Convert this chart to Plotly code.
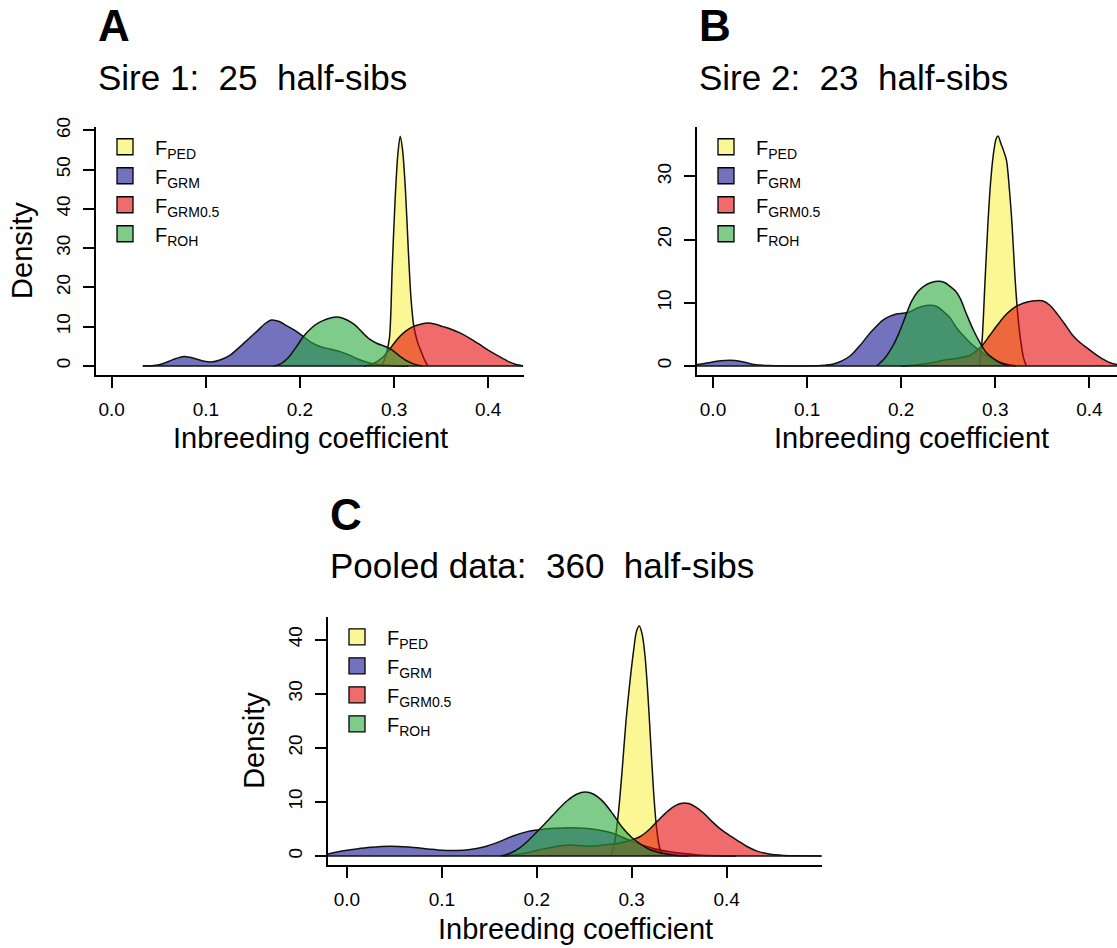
import plotly.graph_objects as go

W, H = 1117, 948
FONT = "Liberation Sans, Arial, sans-serif"

# ---------------- data ----------------
SERIES = ["PED", "GRM", "GRM0.5", "ROH"]
LEGEND_LABELS = ["F<sub>PED</sub>", "F<sub>GRM</sub>", "F<sub>GRM0.5</sub>", "F<sub>ROH</sub>"]
PANEL_LETTERS = ["A", "B", "C"]
PANEL_TITLES = ["Sire 1:\u00a0 25\u00a0 half-sibs",
                "Sire 2:\u00a0 23\u00a0 half-sibs",
                "Pooled data:\u00a0 360\u00a0 half-sibs"]
X_TITLE = "Inbreeding coefficient"
Y_TITLE = "Density"
X_TICKS = [0.0, 0.1, 0.2, 0.3, 0.4]
Y_TICKS_A = [0, 10, 20, 30, 40, 50, 60]
Y_TICKS_B = [0, 10, 20, 30]
Y_TICKS_C = [0, 10, 20, 30, 40]

# Panel A : Sire 1
A_PED_x = [0.287, 0.291, 0.295, 0.298, 0.301, 0.304, 0.3065, 0.309, 0.312, 0.315, 0.318, 0.321, 0.325, 0.329, 0.333, 0.336]
A_PED_y = [0, 2.5, 7, 25, 42, 54, 58.5, 55, 45, 30, 17, 10, 6, 3.5, 1.2, 0]
A_GRM_x = [0.033, 0.045, 0.055, 0.065, 0.077, 0.088, 0.098, 0.106, 0.115, 0.125, 0.135, 0.145, 0.155, 0.163, 0.170,
           0.178, 0.186, 0.195, 0.203, 0.212, 0.222, 0.232, 0.242, 0.252, 0.262, 0.272, 0.282, 0.292, 0.302, 0.315]
A_GRM_y = [0, 0.1, 0.6, 1.6, 2.4, 1.9, 1.2, 1.0, 1.5, 2.6, 4.6, 6.8, 9.0, 10.8, 11.7,
           11.3, 10.2, 9.0, 7.6, 6.0, 4.9, 4.3, 3.7, 2.8, 1.7, 0.9, 0.4, 0.15, 0.05, 0]
A_R05_x = [0.268, 0.278, 0.288, 0.296, 0.304, 0.312, 0.320, 0.328, 0.336, 0.344, 0.352, 0.360, 0.370, 0.380,
           0.390, 0.400, 0.410, 0.420, 0.428, 0.437]
A_R05_y = [0, 0.6, 2.2, 4.5, 7.0, 8.8, 10.0, 10.6, 10.9, 10.6, 10.0, 9.4, 8.4, 7.1, 5.6, 4.0, 2.6, 1.3, 0.5, 0]
A_ROH_x = [0.172, 0.180, 0.188, 0.196, 0.204, 0.212, 0.220, 0.228, 0.236, 0.242, 0.250, 0.258, 0.266, 0.274,
           0.282, 0.290, 0.298, 0.306, 0.314, 0.322, 0.330]
A_ROH_y = [0, 0.6, 2.2, 4.8, 7.6, 9.6, 11.0, 11.9, 12.4, 12.4, 11.7, 10.5, 8.6, 6.8, 5.7, 5.0, 4.0, 2.5, 1.2, 0.4, 0]

# Panel B : Sire 2
B_PED_x = [0.283, 0.286, 0.289, 0.292, 0.295, 0.298, 0.301, 0.303, 0.306, 0.309, 0.312, 0.315, 0.318, 0.321,
           0.324, 0.327, 0.330, 0.333]
B_PED_y = [0, 4, 13, 22, 29, 33.5, 36, 36.4, 35.2, 34, 32.5, 28, 22, 14, 8, 4, 1.3, 0]
B_GRM_x = [-0.03, -0.017, -0.005, 0.008, 0.018, 0.03, 0.045, 0.06, 0.09, 0.115, 0.128, 0.137, 0.146, 0.156,
           0.167, 0.181, 0.195, 0.208, 0.218, 0.229, 0.238, 0.245, 0.252, 0.259, 0.266, 0.273, 0.28, 0.288,
           0.295, 0.303, 0.312, 0.322]
B_GRM_y = [0, 0.2, 0.5, 0.8, 0.9, 0.7, 0.2, 0.05, 0, 0.05, 0.3, 0.8, 1.6, 3.2,
           5.2, 7.3, 8.2, 8.5, 9.2, 9.6, 9.4, 8.6, 7.6, 6.0, 4.8, 3.7, 2.8, 1.9,
           1.3, 0.7, 0.25, 0]
B_R05_x = [0.20, 0.215, 0.23, 0.245, 0.26, 0.272, 0.28, 0.287, 0.294, 0.302, 0.31, 0.318, 0.326, 0.334,
           0.342, 0.35, 0.358, 0.366, 0.374, 0.382, 0.39, 0.398, 0.406, 0.414, 0.422, 0.432, 0.445]
B_R05_y = [0, 0.15, 0.4, 0.9, 1.2, 1.6, 2.4, 3.4, 4.8, 6.4, 7.9, 9.0, 9.7, 10.1,
           10.3, 10.3, 9.6, 8.2, 6.6, 4.9, 3.7, 2.8, 1.9, 1.1, 0.5, 0.15, 0]
B_ROH_x = [0.174, 0.183, 0.192, 0.198, 0.204, 0.211, 0.218, 0.224, 0.232, 0.24, 0.246, 0.252, 0.258, 0.263,
           0.27, 0.277, 0.284, 0.29, 0.295, 0.305, 0.316]
B_ROH_y = [0, 1.3, 3.4, 5.3, 7.6, 10.2, 11.8, 12.6, 13.2, 13.4, 13.2, 12.6, 11.8, 10.6,
           8.0, 5.6, 3.6, 2.2, 1.5, 0.5, 0]

# Panel C : pooled
C_PED_x = [0.278, 0.282, 0.286, 0.29, 0.294, 0.298, 0.302, 0.305, 0.308, 0.311, 0.314, 0.317, 0.32, 0.323,
           0.326, 0.329, 0.332]
C_PED_y = [0, 2.5, 8, 16, 25, 32, 38, 41.5, 42.5, 41, 37, 30, 21, 12, 5.5, 1.8, 0]
C_GRM_x = [-0.03, -0.019, -0.005, 0.01, 0.025, 0.045, 0.065, 0.085, 0.10, 0.115, 0.13, 0.145, 0.16, 0.175,
           0.19, 0.205, 0.22, 0.235, 0.25, 0.265, 0.28, 0.295, 0.31, 0.325, 0.34, 0.355, 0.37, 0.39, 0.41]
C_GRM_y = [0, 0.4, 0.9, 1.3, 1.6, 1.8, 1.65, 1.3, 1.05, 1.0, 1.2, 1.7, 2.6, 3.7,
           4.5, 4.9, 5.1, 5.2, 5.1, 4.8, 4.2, 3.1, 2.1, 1.3, 0.8, 0.45, 0.2, 0.06, 0]
C_R05_x = [0.165, 0.18, 0.195, 0.21, 0.225, 0.24, 0.255, 0.27, 0.285, 0.297, 0.308, 0.318, 0.328, 0.338,
           0.346, 0.353, 0.36, 0.368, 0.376, 0.385, 0.394, 0.403, 0.412, 0.421, 0.432, 0.445, 0.46, 0.48, 0.50]
C_R05_y = [0, 0.3, 0.8, 1.4, 1.9, 2.0, 1.8, 2.0, 2.3, 2.8, 3.5, 4.8, 6.6, 8.3,
           9.3, 9.75, 9.7, 9.0, 7.9, 6.3, 4.9, 3.8, 2.8, 1.8, 0.9, 0.35, 0.1, 0.02, 0]
C_ROH_x = [0.162, 0.172, 0.182, 0.192, 0.202, 0.212, 0.222, 0.232, 0.242, 0.251, 0.26, 0.27, 0.28, 0.29,
           0.30, 0.31, 0.32, 0.332, 0.345, 0.36]
C_ROH_y = [0, 0.5, 1.5, 3.0, 4.8, 6.6, 8.5, 10.2, 11.4, 11.8, 11.4, 10.0, 7.8, 5.3, 3.4, 2.1, 1.1, 0.5, 0.15, 0]

# ---------------- styling ----------------
FILL_COLORS = ["rgba(245,235,0,0.42)", "rgba(0,0,135,0.55)", "rgba(230,0,0,0.58)", "rgba(40,168,60,0.6)"]
LINE_COLOR = "#111111"

# panel geometry in pixels: (left, right, top, bottom), axis ranges
PANELS = [
    dict(px=(96, 524, 118, 369), xr=[-0.0167, 0.438], yr=[-2.34, 60.9], yt=Y_TICKS_A,
         data=[(A_PED_x, A_PED_y), (A_GRM_x, A_GRM_y), (A_R05_x, A_R05_y), (A_ROH_x, A_ROH_y)], ytitle=True),
    dict(px=(697, 1117, 118, 369), xr=[-0.017, 0.4294], yr=[-1.46, 37.86], yt=Y_TICKS_B,
         data=[(B_PED_x, B_PED_y), (B_GRM_x, B_GRM_y), (B_R05_x, B_R05_y), (B_ROH_x, B_ROH_y)], ytitle=False),
    dict(px=(328, 822, 613.3, 864), xr=[-0.02, 0.5005], yr=[-1.65, 44.2], yt=Y_TICKS_C,
         data=[(C_PED_x, C_PED_y), (C_GRM_x, C_GRM_y), (C_R05_x, C_R05_y), (C_ROH_x, C_ROH_y)], ytitle=True),
]


def fx(p):
    return p / W


def fy(p):
    return 1 - p / H


fig = go.Figure()
annotations = []
layout = dict(width=W, height=H, margin=dict(l=0, r=0, t=0, b=0),
              paper_bgcolor="white", plot_bgcolor="white",
              font=dict(family=FONT, color="black"), showlegend=True, hovermode=False)

for i, pan in enumerate(PANELS):
    n = "" if i == 0 else str(i + 1)
    xa, ya = "x" + n, "y" + n
    leg = "legend" + n
    left, right, top, bottom = pan["px"]

    for k, (xs, ys) in enumerate(pan["data"]):
        fig.add_trace(go.Scatter(x=xs, y=ys, mode="lines", fill="tozeroy",
                                 fillcolor=FILL_COLORS[k],
                                 line=dict(color=LINE_COLOR, width=1.5, shape="spline", smoothing=0.8),
                                 xaxis=xa, yaxis=ya, showlegend=False, name=SERIES[k]))
    # baseline of the density polygons (span of all data)
    allx = [v for xs, _ in pan["data"] for v in xs]
    fig.add_trace(go.Scatter(x=[min(allx), max(allx)], y=[0, 0], mode="lines",
                             line=dict(color=LINE_COLOR, width=1.5), xaxis=xa, yaxis=ya,
                             showlegend=False))
    # legend entries
    for k in range(len(SERIES)):
        fig.add_trace(go.Scatter(x=[None], y=[None], mode="markers", name=LEGEND_LABELS[k],
                                 marker=dict(symbol="square", size=16, color=FILL_COLORS[k],
                                             line=dict(color="black", width=1.3)),
                                 xaxis=xa, yaxis=ya, legend=leg, showlegend=True))

    layout["xaxis" + n] = dict(domain=[fx(left), fx(right)], range=pan["xr"], anchor=ya,
                               tickvals=X_TICKS, ticktext=[f"{v:.1f}" for v in X_TICKS],
                               ticks="outside", ticklen=11, tickwidth=1.5, tickcolor="black",
                               showline=True, linecolor="black", linewidth=1.8,
                               showgrid=False, zeroline=False, fixedrange=True,
                               tickfont=dict(size=19, family=FONT, color="black"),
                               ticklabelstandoff=5)
    layout["yaxis" + n] = dict(domain=[fy(bottom), fy(top)], range=pan["yr"], anchor=xa,
                               tickvals=pan["yt"], ticktext=[str(v) for v in pan["yt"]],
                               tickangle=-90,
                               ticks="outside", ticklen=11, tickwidth=1.5, tickcolor="black",
                               showline=True, linecolor="black", linewidth=1.8,
                               showgrid=False, zeroline=False, fixedrange=True,
                               tickfont=dict(size=19, family=FONT, color="black"),
                               ticklabelstandoff=6)
    layout[leg] = dict(x=fx(left - 1), y=fy(top + 0.5), xanchor="left", yanchor="top",
                       bgcolor="rgba(0,0,0,0)", borderwidth=0, itemwidth=50,
                       font=dict(size=20, family=FONT, color="black"),
                       itemclick=False, itemdoubleclick=False)

    # panel letter and title
    letter_y = 16 if i < 2 else 510
    title_y = 68.6 if i < 2 else 561.5
    annotations.append(dict(text="<b>" + PANEL_LETTERS[i] + "</b>", x=fx(left), y=fy(letter_y),
                            xref="paper", yref="paper", xanchor="left", yanchor="middle",
                            showarrow=False, font=dict(size=44, family=FONT, color="black")))
    annotations.append(dict(text=PANEL_TITLES[i], x=fx(left), y=fy(title_y),
                            xref="paper", yref="paper", xanchor="left", yanchor="middle",
                            showarrow=False, font=dict(size=35, family=FONT, color="black")))
    # axis titles
    xt_y = 433 if i < 2 else 928.5
    xt_x = (left + right) / 2 if i != 1 else 911
    annotations.append(dict(text=X_TITLE, x=fx(xt_x), y=fy(xt_y), xref="paper", yref="paper",
                            xanchor="center", yanchor="middle", showarrow=False,
                            font=dict(size=29, family=FONT, color="black")))
    if pan["ytitle"]:
        annotations.append(dict(text=Y_TITLE, x=fx(left - 74), y=fy((top + bottom) / 2),
                                xref="paper", yref="paper", xanchor="center", yanchor="middle",
                                textangle=-90, showarrow=False,
                                font=dict(size=29, family=FONT, color="black")))

layout["annotations"] = annotations
fig.update_layout(**layout)
fig.write_html("out.html", config={"displayModeBar": False},
               post_script="document.body.style.margin='0';document.body.style.overflow='hidden';")
